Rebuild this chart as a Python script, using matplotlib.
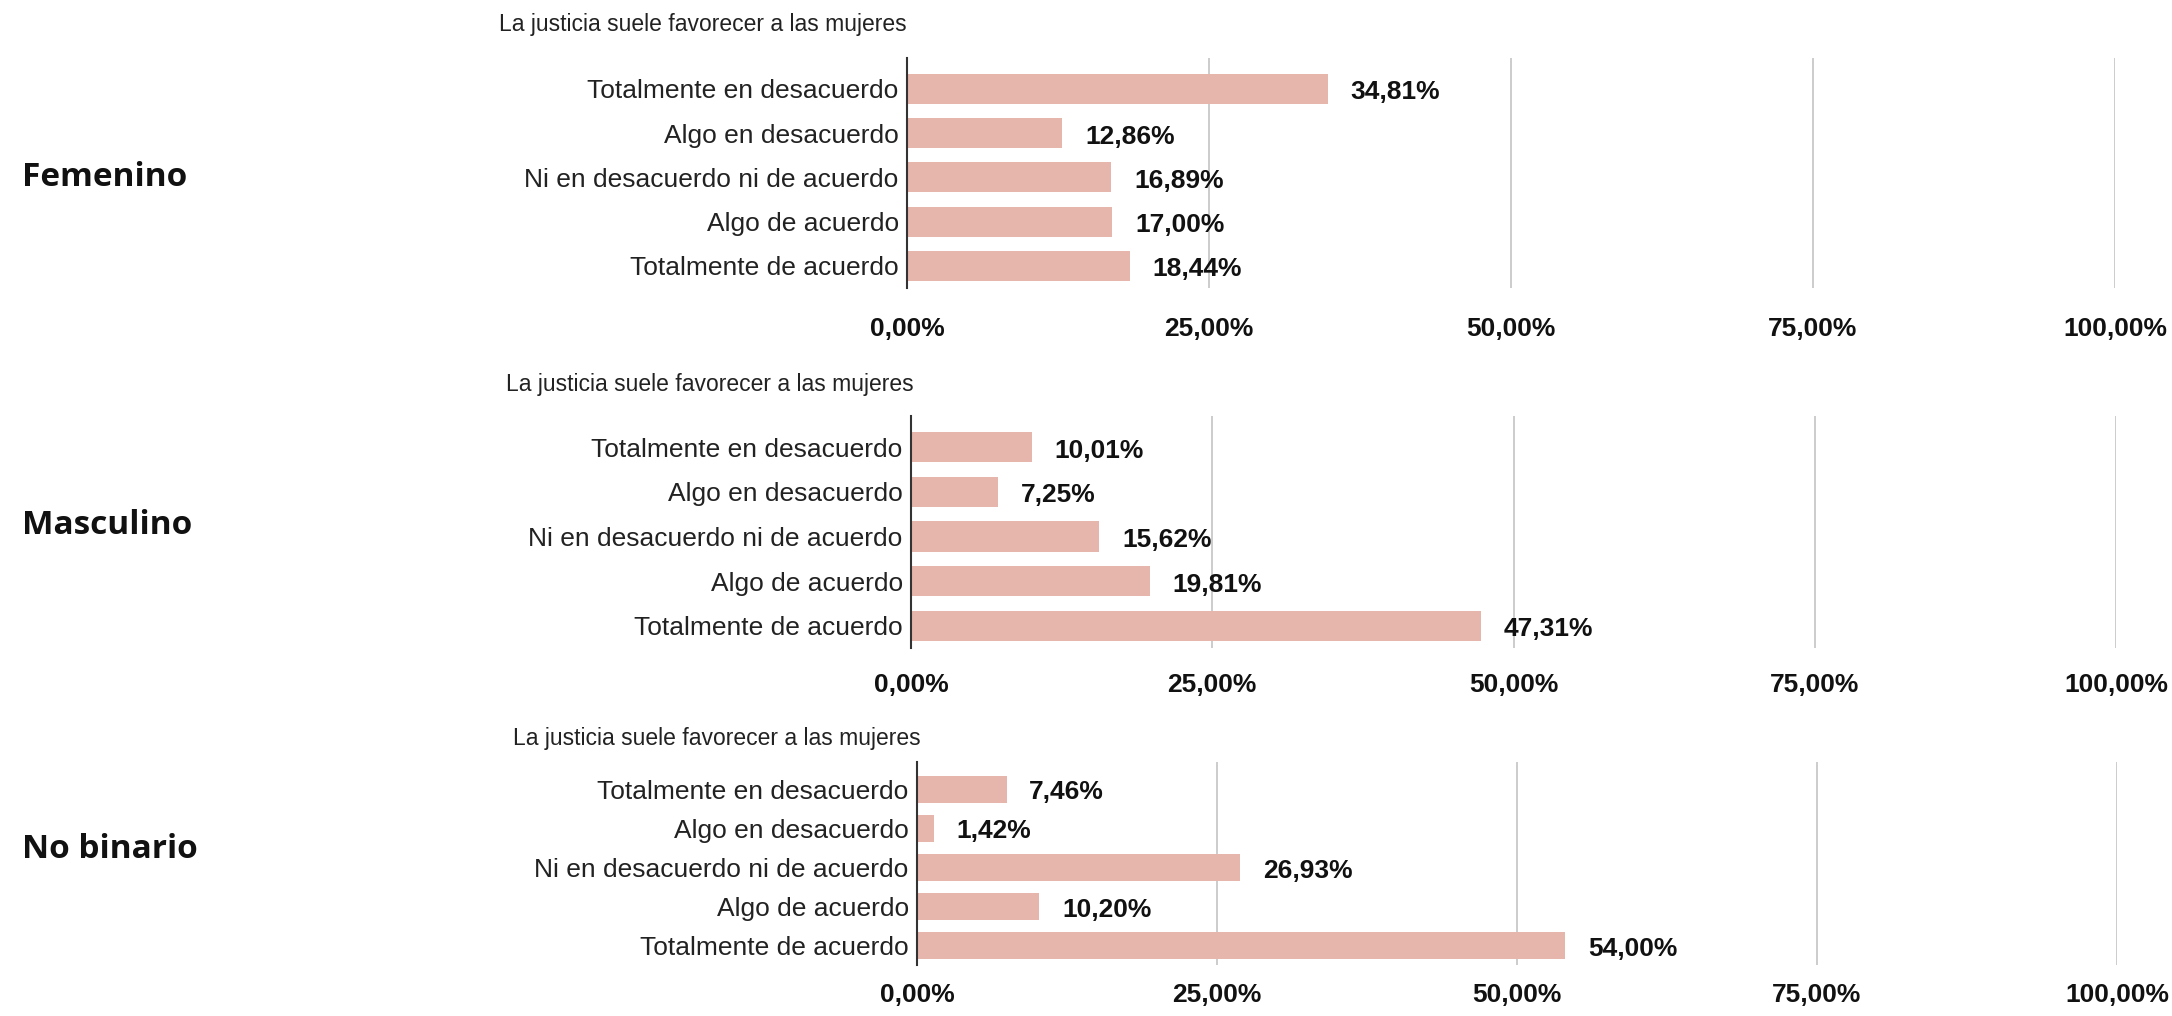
import matplotlib as mpl
mpl.use('Agg')
import matplotlib.pyplot as plt

# figure size in pixels at 100 dpi
W, H = 2172, 1016
DPI = 100

title = 'La justicia suele favorecer a las mujeres'
categories = ['Totalmente en desacuerdo', 'Algo en desacuerdo',
              'Ni en desacuerdo ni de acuerdo', 'Algo de acuerdo',
              'Totalmente de acuerdo']
groups = ['Femenino', 'Masculino', 'No binario']
femenino = [34.81, 12.86, 16.89, 17.00, 18.44]
masculino = [10.01, 7.25, 15.62, 19.81, 47.31]
no_binario = [7.46, 1.42, 26.93, 10.20, 54.00]
xticks = [0, 25, 50, 75, 100]

sans = ['Liberation Sans', 'DejaVu Sans']
bar_color = '#e6b5ac'
grid_color = '#c8c8c8'


def pct(v):
    return ('%.2f%%' % v).replace('.', ',')


def px_rect(left, right, top, bottom):
    """axes rectangle from pixel edges (origin top-left)"""
    return [left / W, 1 - bottom / H, (right - left) / W, (bottom - top) / H]


def panel(fig, values, rect, title_xy, group_y, group, tick_pad):
    ax = fig.add_axes(px_rect(*rect))
    ypos = list(range(len(categories)))
    ax.barh(ypos, values, height=0.68, color=bar_color, zorder=2)
    for y, v in zip(ypos, values):
        ax.text(v + 1.9, y + 0.08, pct(v), va='center', ha='left',
                fontsize=19, fontweight='bold', family=sans,
                color='#111111', zorder=3)
    ax.set_xlim(0, 100)
    ax.set_ylim(4.5, -0.7)
    ax.set_yticks(ypos)
    ax.set_yticklabels(categories, fontsize=19, family=sans,
                       color='#222222')
    ax.set_xticks(xticks)
    ax.set_xticklabels([pct(t) for t in xticks], fontsize=19,
                       fontweight='bold', family=sans, color='#111111')
    ax.tick_params(axis='y', length=0, pad=6)
    ax.tick_params(axis='x', length=0, pad=tick_pad)
    for t in xticks[1:]:
        ax.axvline(t, color=grid_color, lw=1.3, zorder=1)
    for s in ['top', 'right', 'bottom']:
        ax.spines[s].set_visible(False)
    ax.spines['left'].set_color('#333333')
    ax.spines['left'].set_linewidth(1.5)
    ax.spines['left'].set_zorder(4)
    fig.text(title_xy[0] / W, 1 - title_xy[1] / H, title, fontsize=16.5,
             family=sans, color='#222222', ha='left', va='center')
    fig.text(22 / W, 1 - group_y / H, group, fontsize=24,
             fontweight='bold', family='Open Sans', color='#111111',
             ha='left', va='center')
    return ax


fig = plt.figure(figsize=(W / DPI, H / DPI), dpi=DPI)
fig.patch.set_facecolor('white')

panel(fig, femenino, (907, 2115, 58, 288), (499, 25), 177, groups[0], 21)
panel(fig, masculino, (911, 2116, 416, 648), (506, 385), 526, groups[1], 18)
panel(fig, no_binario, (917, 2117, 762, 965), (513, 738), 849, groups[2], 13)

plt.savefig('out.png', dpi=DPI, facecolor='white')
